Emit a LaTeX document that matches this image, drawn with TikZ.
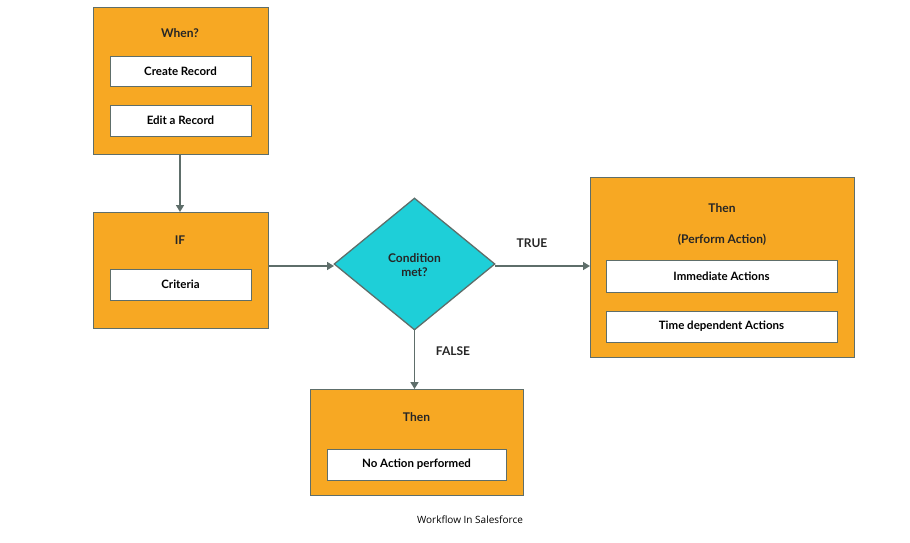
\documentclass[tikz,border=0pt]{standalone}
\usepackage{fontspec}
\setmainfont{Lato}
\newfontfamily\capfont{Open Sans}
\usetikzlibrary{shapes.geometric,arrows.meta}
\definecolor{org}{HTML}{F7A823}
\definecolor{cyn}{HTML}{1ECFD8}
\definecolor{edge}{HTML}{5E6E6A}
\begin{document}
\begin{tikzpicture}[x=1pt,y=-1pt,
 outer/.style={draw=edge,line width=1.3pt,fill=org,anchor=north west,inner sep=0pt},
 inner/.style={draw=edge,line width=0.8pt,fill=white,anchor=north west,inner sep=0pt,font=\fontsize{11.5}{13}\selectfont\bfseries,text=black!85},
 ttl/.style={font=\fontsize{12}{14}\selectfont\bfseries,text=black!85},
 arr/.style={draw=edge,line width=1.6pt,-{Triangle[length=7pt,width=8pt]}}]
\useasboundingbox (0,0) rectangle (910,542);
% When
\node[outer,minimum width=175pt,minimum height=147pt] (when) at (93,7) {};
\node[ttl] (whent) at (180,33) {When?};
\node[inner,minimum width=141pt,minimum height=30pt] (cr) at (110,56) {};
\node (crt) at (180.5,71) {\fontsize{11.5}{13}\selectfont\bfseries Create Record};
\node[inner,minimum width=141pt,minimum height=31pt] (er) at (110,105) {};
\node (ert) at (180.5,120.5) {\fontsize{11.5}{13}\selectfont\bfseries Edit a Record};
% IF
\node[outer,minimum width=175pt,minimum height=116pt] (if) at (93,212) {};
\node[ttl] (ift) at (180,240) {IF};
\node[inner,minimum width=141pt,minimum height=31pt] (cri) at (110,269) {};
\node (crit) at (180.5,284.5) {\fontsize{11.5}{13}\selectfont\bfseries Criteria};
% Diamond
\node[diamond,draw=edge,line width=1.3pt,fill=cyn,minimum width=161pt,minimum height=132pt,inner sep=0pt,aspect=1.22] (dia) at (414.5,264) {};
\node[ttl,align=center] (diat) at (414.5,265) {Condition\\met?};
% Then right
\node[outer,minimum width=264pt,minimum height=180pt] (thr) at (590,177) {};
\node[ttl] (thrt1) at (722,208) {Then};
\node[ttl] (thrt2) at (722,240) {(Perform Action)};
\node[inner,minimum width=231pt,minimum height=32pt] (ia) at (606,260) {};
\node (iat) at (721.5,276) {\fontsize{11.5}{13}\selectfont\bfseries Immediate Actions};
\node[inner,minimum width=231pt,minimum height=31pt] (td) at (606,311) {};
\node (tdt) at (721.5,326.5) {\fontsize{11.5}{13}\selectfont\bfseries Time dependent Actions};
% Then bottom
\node[outer,minimum width=213pt,minimum height=106pt] (thb) at (310,389) {};
\node[ttl] (thbt) at (416.5,417) {Then};
\node[inner,minimum width=179pt,minimum height=31pt] (na) at (327,449) {};
\node (nat) at (416.5,464.5) {\fontsize{11.5}{13}\selectfont\bfseries No Action performed};
% arrows
\coordinate (w1) at (180,154);
\coordinate (i1) at (180,212);
\draw[arr] (w1) -- (i1);
\coordinate (i2) at (268,266);
\coordinate (d1) at (334,266);
\draw[arr] (i2) -- (d1);
\coordinate (d2) at (495,266);
\coordinate (t1) at (590,266);
\draw[arr] (d2) -- (t1);
\coordinate (d3) at (414.5,330);
\coordinate (b1) at (414.5,389);
\draw[arr] (d3) -- (b1);
\node[ttl] (true) at (532,243) {TRUE};
\node[ttl] (false) at (453,351) {FALSE};
\node (cap) at (470,520) {\capfont\fontsize{10}{12}\selectfont Workflow In Salesforce};
\end{tikzpicture}
\end{document}
